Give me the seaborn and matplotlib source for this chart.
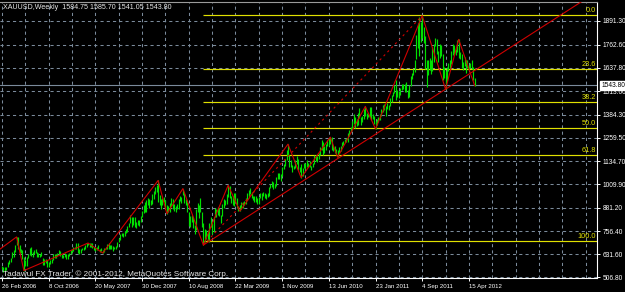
import numpy as np
import pandas as pd
import matplotlib
matplotlib.use("Agg")
import matplotlib.pyplot as plt
import matplotlib.transforms as mtransforms
import seaborn as sns

# ---------------- data ----------------
title_text = "XAUUSD,Weekly  1584.75 1585.70 1541.05 1543.80"
copyright_text = "Tadawul FX Trader, \u00a9 2001-2012, MetaQuotes Software Corp."

# weekly bars, first bar = week of 26 Feb 2006
bar_low = [
    # 2006
    551, 537, 540, 546, 560, 580, 590, 610, 617, 646, 680, 658, 638, 640, 606, 543, 567, 567, 609, 627,
    621, 615, 630, 636, 614, 614, 615, 620, 574, 572, 585, 560, 564, 579, 585, 598, 612, 612, 620, 634,
    622, 612, 612, 618, 603,
    # 2007
    606, 620, 632, 642, 648, 659, 662, 640, 635, 640, 652, 655, 662, 672, 680, 673, 672, 665, 655, 650,
    652, 659, 642, 648, 638, 646, 660, 662, 658, 658, 660, 648, 660, 658, 670, 698, 710, 728, 723, 730,
    748, 752, 778, 800, 780, 788, 777, 775, 788, 785, 805, 830,
    # 2008
    852, 860, 860, 896, 880, 900, 905, 930, 958, 965, 913, 900, 878, 900, 915, 880, 850, 862, 860, 890,
    875, 865, 860, 878, 877, 918, 910, 950, 910, 898, 858, 785, 780, 808, 775, 738, 760, 860, 825, 860,
    780, 681, 700, 715, 705, 700, 780, 740, 750, 830, 830, 845,
    # 2009
    840, 800, 840, 880, 895, 905, 940, 935, 906, 895, 890, 915, 880, 865, 864, 875, 880, 900, 905, 925,
    940, 955, 935, 925, 915, 915, 905, 905, 935, 925, 945, 935, 930, 940, 945, 990, 995, 985, 988, 1000,
    1040, 1040, 1025, 1055, 1090, 1110, 1140, 1160, 1105, 1100, 1075, 1090,
    # 2010
    1095, 1120, 1085, 1075, 1045, 1055, 1095, 1090, 1105, 1100, 1105, 1085, 1100, 1120, 1135, 1130, 1145, 1165, 1195, 1165,
    1180, 1195, 1215, 1215, 1225, 1195, 1190, 1180, 1175, 1155, 1180, 1190, 1215, 1220, 1238, 1240, 1240, 1270, 1290, 1310,
    1335, 1315, 1325, 1330, 1365, 1330, 1345, 1360, 1380, 1360, 1370, 1375,
    # 2011
    1355, 1360, 1335, 1308, 1330, 1345, 1355, 1380, 1400, 1410, 1380, 1415, 1410, 1430, 1455, 1485, 1500, 1462, 1480, 1475,
    1490, 1520, 1525, 1510, 1510, 1478, 1480, 1540, 1580, 1600, 1615, 1685, 1745, 1700, 1780, 1800, 1770, 1630, 1535, 1600,
    1625, 1605, 1620, 1670, 1755, 1715, 1670, 1690, 1700, 1575, 1585, 1523,
    # 2012
    1565, 1620, 1630, 1660, 1710, 1715, 1705, 1725, 1690, 1685, 1640, 1627, 1650, 1612, 1635, 1625, 1635, 1630, 1575, 1541.05,
]
bar_high = [
    # 2006
    570, 563, 562, 562, 587, 598, 612, 645, 652, 682, 725, 722, 682, 660, 652, 617, 598, 616, 635, 664,
    671, 645, 656, 658, 642, 636, 632, 642, 612, 604, 606, 600, 590, 600, 606, 630, 632, 632, 640, 652,
    650, 634, 628, 640, 635,
    # 2007
    631, 637, 652, 660, 673, 672, 690, 690, 659, 660, 666, 670, 680, 692, 692, 690, 690, 690, 672, 670,
    670, 680, 662, 663, 655, 665, 672, 686, 690, 682, 680, 676, 673, 676, 700, 720, 740, 746, 746, 756,
    770, 785, 800, 845, 830, 830, 830, 805, 818, 815, 840, 866,
    # 2008
    900, 915, 925, 935, 930, 925, 955, 975, 993, 1003, 1030, 950, 930, 937, 940, 925, 895, 890, 910, 935,
    930, 905, 892, 905, 930, 945, 940, 986, 960, 930, 915, 860, 840, 845, 835, 790, 875, 910, 895, 935,
    860, 800, 765, 760, 760, 800, 830, 800, 830, 880, 875, 885,
    # 2009
    880, 845, 905, 930, 925, 955, 1004, 1000, 945, 945, 960, 960, 935, 890, 900, 915, 915, 920, 935, 960,
    980, 990, 965, 945, 945, 945, 935, 940, 960, 960, 970, 960, 955, 960, 995, 1010, 1025, 1020, 1012, 1050,
    1070, 1070, 1065, 1100, 1120, 1145, 1195, 1226, 1170, 1140, 1115, 1110,
    # 2010
    1140, 1162, 1145, 1105, 1120, 1095, 1125, 1125, 1140, 1125, 1135, 1110, 1125, 1165, 1165, 1160, 1180, 1210, 1249, 1235,
    1215, 1225, 1250, 1260, 1264, 1262, 1215, 1215, 1200, 1195, 1210, 1215, 1235, 1245, 1256, 1260, 1285, 1300, 1320, 1350,
    1387, 1375, 1360, 1395, 1424, 1375, 1380, 1415, 1430, 1395, 1390, 1425,
    # 2011
    1425, 1390, 1380, 1350, 1360, 1370, 1390, 1415, 1440, 1445, 1430, 1448, 1440, 1475, 1490, 1510, 1545, 1575, 1520, 1515,
    1530, 1550, 1550, 1550, 1560, 1520, 1545, 1595, 1610, 1630, 1680, 1815, 1880, 1912, 1885, 1920, 1860, 1810, 1680, 1680,
    1690, 1680, 1750, 1765, 1802, 1795, 1730, 1765, 1760, 1715, 1645, 1620,
    # 2012
    1645, 1665, 1680, 1730, 1765, 1760, 1740, 1790, 1792, 1725, 1715, 1670, 1695, 1680, 1680, 1655, 1665, 1680, 1645, 1585.70,
]

# ZigZag swing points (week index, price)
zigzag_week = [-40, 10, 15, 59, 69, 107, 113, 124, 138, 155, 163, 196, 205, 225, 230, 249, 256, 288, 304, 313, 324]
zigzag_price = [435, 725, 543, 692, 638, 1030, 850, 986, 681, 1004, 864, 1226, 1045, 1264, 1155, 1430, 1308, 1920, 1523, 1792, 1541]

# trend line anchors (ray to the right)
trend_week = [138, 304]
trend_price = [681, 1523]

# Fibonacci retracement
fib_week = [138, 288]
fib_line_price = [681, 1920]     # dotted diagonal
fib_low, fib_high = 701, 1923    # 100 % and 0 % levels
fib_levels = [0.0, 23.6, 38.2, 50.0, 61.8, 100.0]
fib_labels = ["0.0", "23.6", "38.2", "50.0", "61.8", "100.0"]

bid_price = 1543.80
bid_label = "1543.80"

price_ticks = [1891.30, 1762.60, 1637.80, 1513.00, 1384.30, 1259.50, 1134.70, 1009.90, 881.20, 756.40, 631.60, 506.80]
price_tick_labels = ["1891.30", "1762.60", "1637.80", "1513.00", "1384.30", "1259.50", "1134.70",
                     "1009.90", "881.20", "756.40", "631.60", "506.80"]
date_tick_labels = ["26 Feb 2006", "8 Oct 2006", "20 May 2007", "30 Dec 2007", "10 Aug 2008", "22 Mar 2009",
                    "1 Nov 2009", "13 Jun 2010", "23 Jan 2011", "4 Sep 2011", "15 Apr 2012"]
date_label_step = 32   # weeks between labels
grid_step = 16         # weeks between vertical grid lines

# ---------------- style ----------------
sns.set_theme(style="dark", rc={"axes.facecolor": "black", "figure.facecolor": "black"})
plt.rcParams["font.family"] = ["Liberation Sans", "DejaVu Sans"]

BAR = "#00e000"
RED = "#d00000"
YEL = "#e0e000"
GRID = "#7b8b9b"
W = 625
H = 292

fig = plt.figure(figsize=(W / 100, H / 100), dpi=100)
fig.patch.set_facecolor("black")
ax = fig.add_axes([0.0, 14 / H, 597.3 / W, 276 / H])
ax.set_facecolor("black")

xmin, xmax = -1.37, 408.0
ymin, ymax = 503.0, 1993.9
ax.set_xlim(xmin, xmax)
ax.set_ylim(ymin, ymax)

# grid
ax.set_yticks(price_ticks)
ax.set_yticklabels(price_tick_labels)
label_weeks = [i * date_label_step for i in range(len(date_tick_labels))]
ax.set_xticks(label_weeks)
ax.set_xticklabels(date_tick_labels, ha="left")
ax.set_xticks([i * grid_step for i in range(int(xmax // grid_step) + 1)], minor=True)
ax.grid(True, which="both", axis="x", color=GRID, linestyle=(0, (3, 3)), linewidth=0.75)
ax.grid(True, which="major", axis="y", color=GRID, linestyle=(0, (3, 3)), linewidth=0.75)
ax.set_axisbelow(True)

# bid line
ax.axhline(bid_price, color=GRID, linewidth=0.8, zorder=1)

# Fibonacci levels
trans_lab = mtransforms.blended_transform_factory(ax.transAxes, ax.transData)
for lvl, lab in zip(fib_levels, fib_labels):
    p = fib_high - lvl / 100.0 * (fib_high - fib_low)
    ax.hlines(p, fib_week[0], xmax, color=YEL, linewidth=0.85, zorder=2)
    ax.text(0.998, p + 5, lab, transform=trans_lab, ha="right", va="bottom",
            color=YEL, fontsize=5.3, zorder=6)

# bars
weeks = np.arange(len(bar_low))
ax.vlines(weeks, bar_low, bar_high, color=BAR, linewidth=0.85, zorder=3)

# dotted fib diagonal
sns.lineplot(x=fib_week, y=fib_line_price, ax=ax, color=RED, linewidth=0.8,
             linestyle=(0, (2, 3)), estimator=None, sort=False, zorder=4)

# trend ray
slope = (trend_price[1] - trend_price[0]) / (trend_week[1] - trend_week[0])
ray_week = [trend_week[0], xmax + 20]
ray_price = [trend_price[0], trend_price[0] + slope * (ray_week[1] - trend_week[0])]
sns.lineplot(x=ray_week, y=ray_price, ax=ax, color=RED, linewidth=0.8,
             estimator=None, sort=False, zorder=4)

# zigzag
sns.lineplot(x=zigzag_week, y=zigzag_price, ax=ax, color=RED, linewidth=0.8,
             estimator=None, sort=False, zorder=5)

ax.set_xlim(xmin, xmax)
ax.set_ylim(ymin, ymax)
ax.set_xlabel("")
ax.set_ylabel("")

# axes frame
ax.spines["left"].set_visible(False)
ax.spines["top"].set_color("#9a9a9a")
ax.spines["top"].set_linewidth(0.8)
ax.spines["right"].set_color("white")
ax.spines["right"].set_linewidth(0.8)
ax.spines["bottom"].set_color("white")
ax.spines["bottom"].set_linewidth(0.8)

ax.yaxis.tick_right()
ax.tick_params(axis="y", which="major", right=True, left=False, colors="white",
               labelcolor="white", labelsize=4.75, length=2.5, width=0.7, pad=1.2, direction="out")
ax.tick_params(axis="x", which="major", bottom=True, colors="white", labelcolor="white",
               labelsize=4.4, length=2.5, width=0.7, pad=2.0, direction="out")
ax.tick_params(axis="x", which="minor", bottom=False)

# current price box
ax.text(1.0 + 3.8 / 597.3, bid_price, bid_label, transform=trans_lab, ha="left", va="center",
        color="black", fontsize=4.75, zorder=10, clip_on=False,
        bbox=dict(boxstyle="square,pad=0.12", facecolor="white", edgecolor="white"))

# header and copyright
fig.text(3 / W, 1 - 7.5 / H, title_text, color="#e8e8e8", fontsize=5.1, ha="left", va="center")
fig.text(3 / W, 1 - 274 / H, copyright_text, color="#e8e8e8", fontsize=5.9, ha="left", va="center")

fig.savefig("out.png", dpi=100, facecolor="black")
